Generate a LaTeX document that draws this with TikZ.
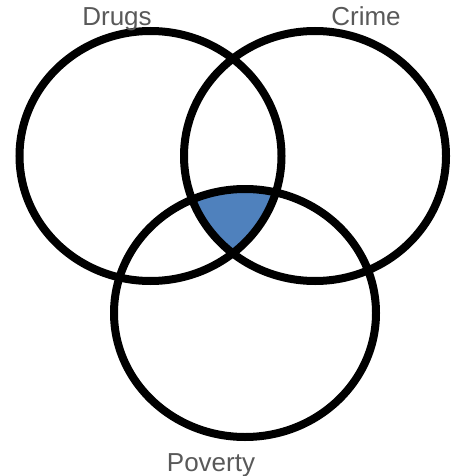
\documentclass[tikz,border=0pt]{standalone}
\usepackage{fontspec}
\setmainfont{Liberation Sans}
\definecolor{overlapblue}{RGB}{79,129,189}
\definecolor{labelgray}{RGB}{89,89,89}
\tikzset{
  ring/.style={line width=8pt, draw=black},
  setlabel/.style={text=labelgray, font=\fontsize{26}{30}\selectfont, anchor=base, inner sep=0pt}
}

\begin{document}
\begin{tikzpicture}[x=1pt,y=-1pt]
    \useasboundingbox (0,0) rectangle (451,476);
    \coordinate (drugs) at (150.5,156);
    \coordinate (crime) at (315,156);
    \coordinate (poverty) at (245,313);
    % shaded overlap of all three sets
    \begin{scope}
        \clip (drugs) ellipse [x radius=131pt, y radius=125pt];
        \clip (crime) ellipse [x radius=131pt, y radius=125pt];
        \fill[overlapblue] (poverty) ellipse [x radius=131pt, y radius=124pt];
    \end{scope}
    \draw[ring] (drugs) ellipse [x radius=131pt, y radius=125pt];
    \draw[ring] (crime) ellipse [x radius=131pt, y radius=125pt];
    \draw[ring] (poverty) ellipse [x radius=131pt, y radius=124pt];
    \node[setlabel] (drugslabel) at (117,26) {Drugs};
    \node[setlabel] (crimelabel) at (366,26) {Crime};
    \node[setlabel] (povertylabel) at (211,471) {Poverty};
\end{tikzpicture}
\end{document}
